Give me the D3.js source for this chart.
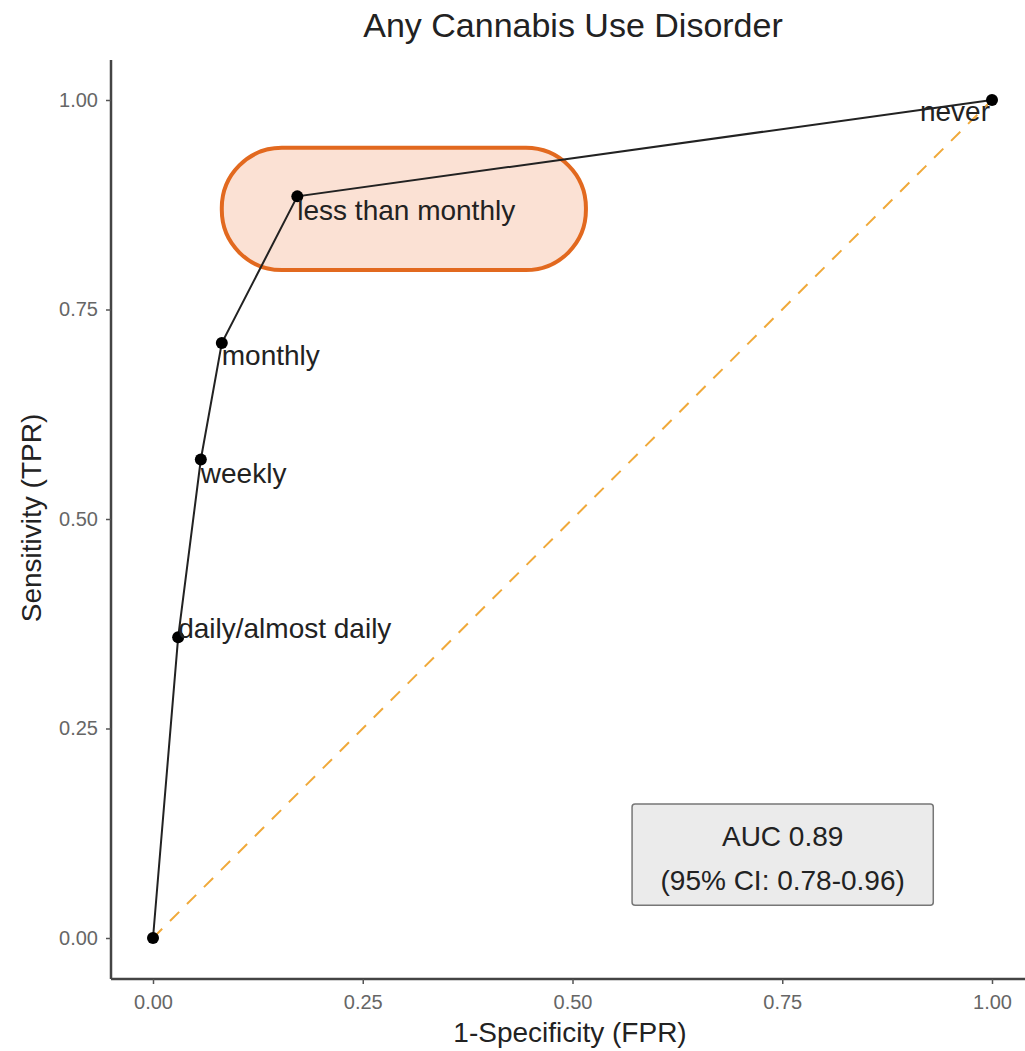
<!DOCTYPE html>
<html>
<head>
<meta charset="utf-8">
<script src="https://cdn.jsdelivr.net/npm/d3@7"></script>
<style>
  body { margin: 0; background: #fff; }
  text { font-family: "Liberation Sans", Arial, sans-serif; }
</style>
</head>
<body>
<div id="chart"></div>
<script>
// ROC points (1-specificity, sensitivity) by cut-off
const labels = ["", "daily/almost daily", "weekly", "monthly", "less than monthly", "never"];
const fpr = [0, 0.030, 0.057, 0.082, 0.172, 1.0];
const tpr = [0, 0.359, 0.571, 0.710, 0.885, 1.0];
const ticks = [0, 0.25, 0.5, 0.75, 1.0];
const aucLines = ["AUC 0.89", "(95% CI: 0.78-0.96)"];

const width = 1025, height = 1051;
const svg = d3.select("#chart")
  .append("svg")
  .attr("width", width)
  .attr("height", height);

const x = d3.scaleLinear().domain([0, 1]).range([153, 992]);
const y = d3.scaleLinear().domain([0, 1]).range([938, 100]);

// highlight behind "less than monthly"
svg.append("rect")
  .attr("x", x(0.082)).attr("y", y(0.943))
  .attr("width", x(0.516) - x(0.082)).attr("height", y(0.797) - y(0.943))
  .attr("rx", 60).attr("ry", 60)
  .attr("fill", "#fbe1d4")
  .attr("stroke", "#e2691f")
  .attr("stroke-width", 4);

// axes
const xAxis = svg.append("g")
  .attr("transform", "translate(0,979)")
  .call(d3.axisBottom(x).tickValues(ticks).tickFormat(d3.format(".2f")).tickSize(5).tickPadding(11));
xAxis.select(".domain").attr("d", "M111,0H1025").attr("stroke", "#444").attr("stroke-width", 2.5);

const yAxis = svg.append("g")
  .attr("transform", "translate(111,0)")
  .call(d3.axisLeft(y).tickValues(ticks).tickFormat(d3.format(".2f")).tickSize(5).tickPadding(8));
yAxis.select(".domain").attr("d", "M0,60V979").attr("stroke", "#444").attr("stroke-width", 2.5);

svg.selectAll(".tick line").attr("stroke", "#555").attr("stroke-width", 1.5);
svg.selectAll(".tick text").attr("fill", "#666").attr("font-size", 20);

// chance line
svg.append("line")
  .attr("x1", x(0)).attr("y1", y(0))
  .attr("x2", x(1)).attr("y2", y(1))
  .attr("stroke", "#f0a93a")
  .attr("stroke-width", 2)
  .attr("stroke-dasharray", "13,11");

// ROC curve
const pts = fpr.map((d, i) => ({ fx: d, ty: tpr[i], label: labels[i] }));
svg.append("path")
  .datum(pts)
  .attr("fill", "none")
  .attr("stroke", "#222")
  .attr("stroke-width", 2)
  .attr("d", d3.line().x(d => x(d.fx)).y(d => y(d.ty)));

svg.selectAll("circle.pt")
  .data(pts)
  .enter()
  .append("circle")
  .attr("class", "pt")
  .attr("cx", d => x(d.fx))
  .attr("cy", d => y(d.ty))
  .attr("r", 6)
  .attr("fill", "#000");

// point labels
const labelDy = { "daily/almost daily": 1, "weekly": 23, "monthly": 22, "less than monthly": 24, "never": 21 };
svg.selectAll("text.lab")
  .data(pts.filter(d => d.label))
  .enter()
  .append("text")
  .attr("class", "lab")
  .attr("x", d => x(d.fx) + (d.label === "never" ? -2 : 0))
  .attr("y", d => y(d.ty) + labelDy[d.label])
  .attr("text-anchor", d => d.label === "never" ? "end" : "start")
  .attr("font-size", 28)
  .attr("fill", "#222")
  .text(d => d.label);

// AUC box
svg.append("rect")
  .attr("x", x(0.571)).attr("y", y(0.16))
  .attr("width", x(0.930) - x(0.571)).attr("height", y(0.039) - y(0.16))
  .attr("rx", 3)
  .attr("fill", "#ebebeb")
  .attr("stroke", "#777")
  .attr("stroke-width", 1.5);

svg.selectAll("text.auc")
  .data(aucLines)
  .enter()
  .append("text")
  .attr("class", "auc")
  .attr("x", (x(0.571) + x(0.930)) / 2)
  .attr("y", (d, i) => y(0.16) + 42 + i * 44)
  .attr("text-anchor", "middle")
  .attr("font-size", 28)
  .attr("fill", "#222")
  .text(d => d);

// titles
svg.append("text")
  .attr("x", 573).attr("y", 37)
  .attr("text-anchor", "middle")
  .attr("font-size", 34)
  .attr("fill", "#222")
  .text("Any Cannabis Use Disorder");

svg.append("text")
  .attr("x", 570).attr("y", 1042)
  .attr("text-anchor", "middle")
  .attr("font-size", 28)
  .attr("fill", "#222")
  .text("1-Specificity (FPR)");

svg.append("text")
  .attr("transform", "translate(41,518) rotate(-90)")
  .attr("text-anchor", "middle")
  .attr("font-size", 28)
  .attr("fill", "#222")
  .text("Sensitivity (TPR)");
</script>
</body>
</html>
